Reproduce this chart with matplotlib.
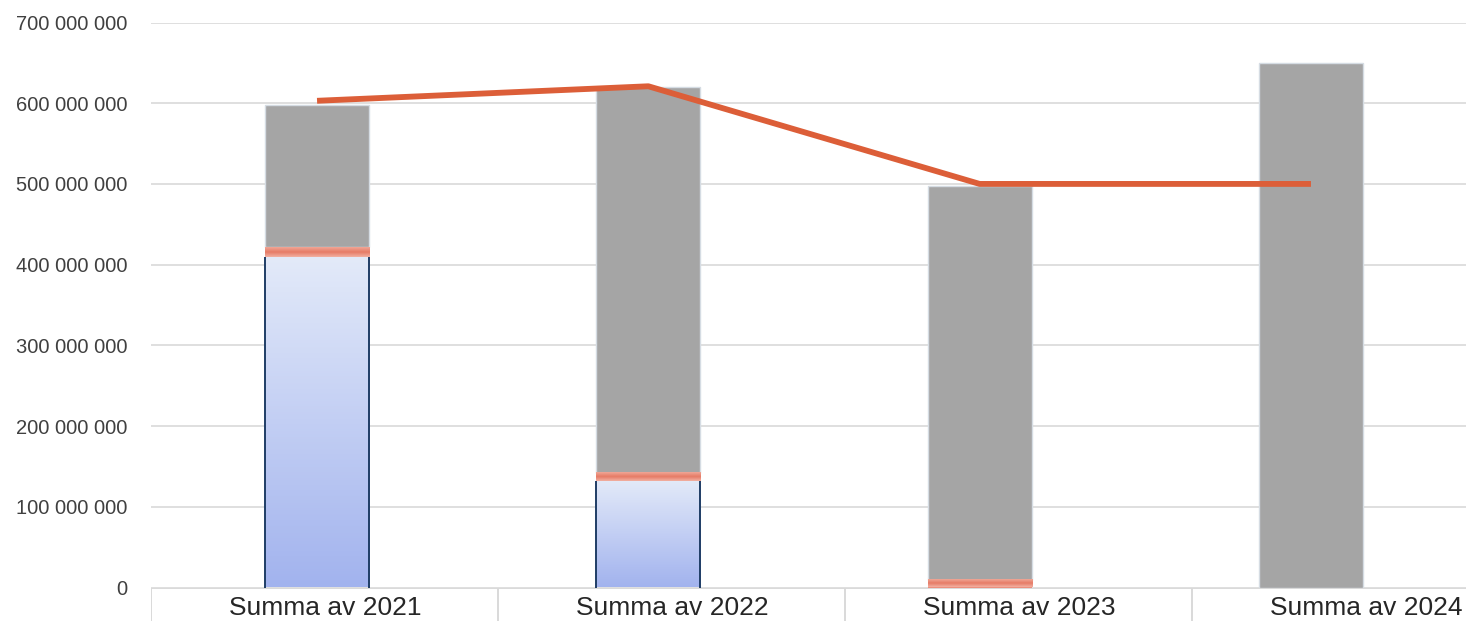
import numpy as np
import matplotlib
matplotlib.use('Agg')
import matplotlib.pyplot as plt
from matplotlib.colors import LinearSegmentedColormap
from matplotlib.ticker import FuncFormatter

categories = ['Summa av 2021', 'Summa av 2022', 'Summa av 2023', 'Summa av 2024']
blue_vals = [410e6, 132e6, 0, 0]
salmon_vals = [12e6, 10e6, 9e6, 0]
gray_vals = [176e6, 478e6, 488e6, 650e6]
line_vals = [603e6, 621e6, 500e6, 500e6]
yticks = [0, 100e6, 200e6, 300e6, 400e6, 500e6, 600e6, 700e6]

plt.rcParams['font.family'] = ['Liberation Sans', 'DejaVu Sans']

W, H = 1466, 621
fig = plt.figure(figsize=(W / 100, H / 100), dpi=100)

# main plot area (extends past the right edge, like the screenshot)
left, right = 151.4, 151.4 + 4 * 331.3
top, bottom = 22.5, 587.5
ax = fig.add_axes([left / W, (H - bottom) / H, (right - left) / W, (bottom - top) / H])

x = np.arange(len(categories))
bw = 0.314

blue_cmap = LinearSegmentedColormap.from_list('b', ['#a2b3ee', '#e3eaf9'])
salmon_cmap = LinearSegmentedColormap.from_list('s', ['#f2b0a2', '#e67b66', '#f0a696'])

b1 = ax.bar(x, blue_vals, bw, color='none', linewidth=0, zorder=3)
b2 = ax.bar(x, salmon_vals, bw, bottom=blue_vals, color='#ec8e7c', linewidth=0, zorder=3)
bot3 = np.array(blue_vals) + np.array(salmon_vals)
b3 = ax.bar(x, gray_vals, bw, bottom=bot3, color='#a5a5a5', edgecolor='#d5dce3',
            linewidth=1.0, zorder=3)

grad = np.linspace(0, 1, 256).reshape(-1, 1)
for r, v in zip(b1, blue_vals):
    if v <= 0:
        continue
    x0, x1 = r.get_x(), r.get_x() + r.get_width()
    ax.imshow(grad, cmap=blue_cmap, origin='lower', aspect='auto', zorder=2.5,
              extent=[x0, x1, 0, v])
    ax.vlines([x0, x1], 0, v, color='#1f3d66', linewidth=1.4, zorder=3.2)

grad2 = np.linspace(0, 1, 64).reshape(-1, 1)
for r, v, b in zip(b2, salmon_vals, blue_vals):
    if v <= 0:
        continue
    ax.imshow(grad2, cmap=salmon_cmap, origin='lower', aspect='auto', zorder=3.5,
              extent=[r.get_x(), r.get_x() + r.get_width(), b, b + v])

ax.plot(x, line_vals, color='#dc5e38', linewidth=4.2, zorder=5, solid_capstyle='butt')

ax.set_xlim(-0.5, 3.5)
ax.set_ylim(0, 700e6)
ax.set_yticks(yticks)
ax.yaxis.set_major_formatter(FuncFormatter(lambda v, p: f'{v:,.0f}'.replace(',', ' ')))
ax.tick_params(axis='y', length=0, pad=17, labelsize=14.5, labelcolor='#404040')
ax.set_xticks([])
ax.grid(axis='y', color='#d9d9d9', linewidth=1.2, zorder=0)
ax.set_axisbelow(True)
for s in ax.spines.values():
    s.set_visible(False)

# category label strip below the plot
cw = 347.0
ax2 = fig.add_axes([left / W, (H - 640) / H, 4 * cw / W, (640 - bottom) / H])
ax2.set_xlim(0, 4)
ax2.set_ylim(640, bottom)
ax2.axis('off')
ax2.axhline(bottom + 0.5, color='#d9d9d9', linewidth=1.4)
for i in range(4):
    ax2.axvline(i, color='#d9d9d9', linewidth=1.4)
for i, c in enumerate(categories):
    ax2.text(i + 0.5, 608, c, ha='center', va='center', fontsize=19, color='#262626')

fig.savefig('out.png', dpi=100)
